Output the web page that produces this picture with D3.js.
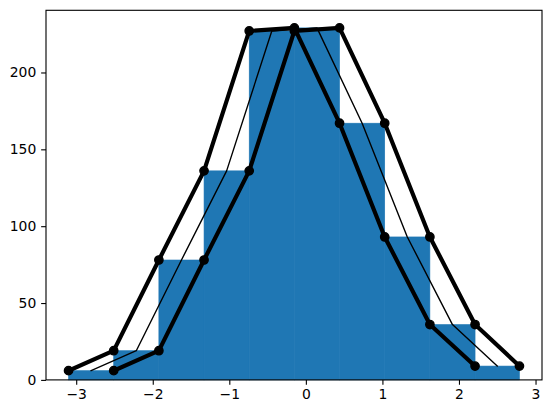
<!DOCTYPE html>
<html>
<head>
<meta charset="utf-8">
<script src="https://cdn.jsdelivr.net/npm/d3@7"></script>
<style>
  body { margin: 0; background: #fff; }
  svg { display: block; }
  .tick text { font-family: "DejaVu Sans", sans-serif; font-size: 13.9px; fill: #000; }
</style>
</head>
<body>
<div id="chart"></div>
<script>
// histogram bin edges and counts
const binEdges = [-3.10, -2.51, -1.92, -1.33, -0.74, -0.15, 0.44, 1.03, 1.62, 2.21, 2.79];
const counts = [6, 19, 78, 136, 227, 229, 167, 93, 36, 9];
const xTicks = [-3, -2, -1, 0, 1, 2, 3];
const yTicks = [0, 50, 100, 150, 200];

const W = 552, H = 413;
const margin = { top: 10.3, left: 46 };
const width = 496, height = 369.6;

const bins = counts.map((c, i) => ({ x0: binEdges[i], x1: binEdges[i + 1], count: c }));
const leftPts = bins.map(b => [b.x0, b.count]);
const rightPts = bins.map(b => [b.x1, b.count]);
const midPts = bins.map(b => [(b.x0 + b.x1) / 2, b.count]);

const xMin = d3.min(binEdges), xMax = d3.max(binEdges);
const pad = (xMax - xMin) * 0.05;
const x = d3.scaleLinear().domain([xMin - pad, xMax + pad]).range([0, width]);
const y = d3.scaleLinear().domain([0, d3.max(counts) * 1.05]).range([height, 0]);

const svg = d3.select("#chart")
    .append("svg")
    .attr("width", W)
    .attr("height", H)
    .append("g")
    .attr("transform", `translate(${margin.left},${margin.top})`);

svg.selectAll(".bar")
    .data(bins)
    .enter()
    .append("rect")
    .attr("class", "bar")
    .attr("x", d => x(d.x0))
    .attr("y", d => y(d.count))
    .attr("width", d => x(d.x1) - x(d.x0))
    .attr("height", d => y(0) - y(d.count))
    .attr("fill", "#1f77b4")
    .attr("stroke", "#1f77b4")
    .attr("stroke-width", 0.6);

const line = d3.line().x(d => x(d[0])).y(d => y(d[1]));

[leftPts, rightPts].forEach(pts => {
    svg.append("path")
        .datum(pts)
        .attr("fill", "none")
        .attr("stroke", "#000")
        .attr("stroke-width", 4.17)
        .attr("stroke-linejoin", "round")
        .attr("stroke-linecap", "square")
        .attr("d", line);
    svg.append("g")
        .selectAll("circle")
        .data(pts)
        .enter()
        .append("circle")
        .attr("cx", d => x(d[0]))
        .attr("cy", d => y(d[1]))
        .attr("r", 4.17)
        .attr("fill", "#000")
        .attr("stroke", "#000")
        .attr("stroke-width", 1.39);
});

svg.append("path")
    .datum(midPts)
    .attr("fill", "none")
    .attr("stroke", "#000")
    .attr("stroke-width", 1.39)
    .attr("stroke-linejoin", "round")
    .attr("stroke-linecap", "square")
    .attr("d", line);

// axes
const xAxis = svg.append("g")
    .attr("transform", `translate(0,${height})`)
    .call(d3.axisBottom(x).tickValues(xTicks).tickSize(4.86).tickPadding(4.86).tickFormat(d3.format("d")));
const yAxis = svg.append("g")
    .call(d3.axisLeft(y).tickValues(yTicks).tickSize(4.86).tickPadding(4.86).tickFormat(d3.format("d")));
[xAxis, yAxis].forEach(a => {
    a.select(".domain").remove();
    a.selectAll(".tick line").attr("stroke", "#000").attr("stroke-width", 1.11);
});

// frame
svg.append("rect")
    .attr("x", 0)
    .attr("y", 0)
    .attr("width", width)
    .attr("height", height)
    .attr("fill", "none")
    .attr("stroke", "#000")
    .attr("stroke-width", 1.11);
</script>
</body>
</html>
